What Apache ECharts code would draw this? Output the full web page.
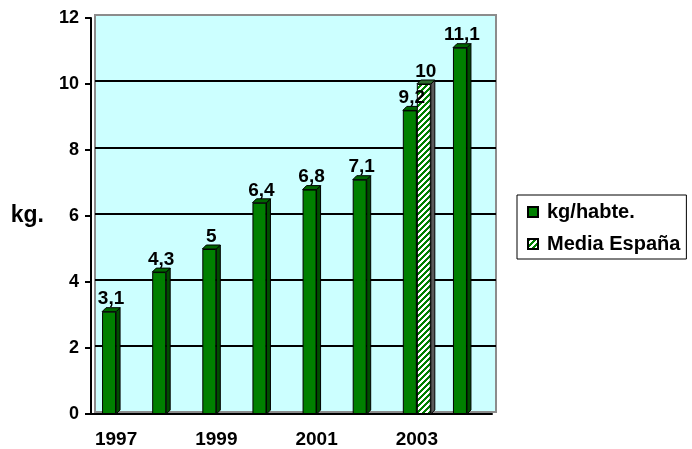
<!DOCTYPE html>
<html>
<head>
<meta charset="utf-8">
<script src="https://cdn.jsdelivr.net/npm/echarts@6/dist/echarts.min.js"></script>
<style>
  html, body { margin: 0; padding: 0; background: #fff; }
  #chart { width: 692px; height: 449px; }
</style>
</head>
<body>
<div id="chart"></div>
<script>
// Consumption per inhabitant (kg) by year, with the national average
const years = ['1997', '1998', '1999', '2000', '2001', '2002', '2003', '2004'];
const kgHabte = [3.1, 4.3, 5, 6.4, 6.8, 7.1, 9.2, 11.1];
const mediaEspana = [null, null, null, null, null, null, 10, null];
const yTicks = { min: 0, max: 12, interval: 2 };

const FONT = 'Arial, "Liberation Sans", sans-serif';
const GREEN = '#008000';
const SIDE_GREEN = '#004d00';
const TOP_GREEN = '#006600';
const BAR_W = 14;
const DX = 4, DY = -4;

// white / green diagonal hatching
function makeHatch() {
  const c = document.createElement('canvas');
  c.width = 6; c.height = 6;
  const ctx = c.getContext('2d');
  const img = ctx.createImageData(6, 6);
  for (let y = 0; y < 6; y++) {
    for (let x = 0; x < 6; x++) {
      const i = (y * 6 + x) * 4;
      const g = (x + y) % 6 < 3;
      img.data[i] = g ? 0 : 255;
      img.data[i + 1] = g ? 128 : 255;
      img.data[i + 2] = g ? 0 : 255;
      img.data[i + 3] = 255;
    }
  }
  ctx.putImageData(img, 0, 0);
  return c;
}
const hatch = { image: makeHatch(), repeat: 'repeat' };

const fmt = v => String(v).replace('.', ',');

// side and top faces that give the bars their depth
function depthRenderer(offsetSide, sideColor, topColor) {
  return function (params, api) {
    const v = api.value(1);
    if (v == null || isNaN(v)) return;
    const top = api.coord([api.value(0), v]);
    const base = api.coord([api.value(0), 0]);
    const x0 = offsetSide === 'left' ? top[0] - BAR_W : top[0];
    const x1 = x0 + BAR_W;
    const yT = top[1], yB = base[1];
    const line = { stroke: '#000', lineWidth: 1 };
    return {
      type: 'group',
      children: [
        { type: 'polygon', shape: { points: [[x1, yT], [x1 + DX, yT + DY], [x1 + DX, yB + DY], [x1, yB]] },
          style: Object.assign({ fill: sideColor }, line) },
        { type: 'polygon', shape: { points: [[x0, yT], [x0 + DX, yT + DY], [x1 + DX, yT + DY], [x1, yT]] },
          style: Object.assign({ fill: topColor }, line) }
      ]
    };
  };
}

const valueLabel = {
  show: true, position: 'top', distance: 3, offset: [2, 0],
  formatter: p => fmt(p.value),
  color: '#000', fontWeight: 'bold', fontSize: 19, fontFamily: FONT
};

const chart = echarts.init(document.getElementById('chart'), null, { renderer: 'canvas' });

chart.setOption({
  animation: false,
  backgroundColor: '#fff',
  textStyle: { fontFamily: FONT },
  grid: [
    { left: 91, top: 18, width: 401, height: 397, show: false },
    { left: 95, top: 15, width: 401, height: 397, show: true,
      backgroundColor: '#CCFFFF', borderColor: '#8c8c8c', borderWidth: 2, z: 0 }
  ],
  legend: {
    orient: 'vertical',
    left: 517, top: 195,
    padding: [7, 6, 5, 10],
    itemGap: 12,
    itemWidth: 10, itemHeight: 10,
    icon: 'rect',
    borderColor: '#000', borderWidth: 1,
    textStyle: { fontFamily: FONT, fontWeight: 'bold', fontSize: 20, color: '#000',
      padding: [0, 0, 0, 4] },
    data: ['kg/habte.', 'Media España']
  },
  xAxis: [
    {
      type: 'category', gridIndex: 0, data: years,
      axisLine: { lineStyle: { color: '#000', width: 2 } },
      axisTick: { interval: 0, length: 6, lineStyle: { color: '#000', width: 2 } },
      axisLabel: { interval: 1, margin: 16, color: '#000', fontWeight: 'bold', fontSize: 19, fontFamily: FONT },
      splitLine: { show: false }
    },
    { type: 'value', gridIndex: 1, min: 0, max: 1, show: false }
  ],
  yAxis: [
    {
      type: 'value', gridIndex: 0, min: yTicks.min, max: yTicks.max, interval: yTicks.interval,
      name: 'kg.', nameLocation: 'middle', nameRotate: 0, nameGap: 47,
      nameTextStyle: { color: '#000', fontWeight: 'bold', fontSize: 23, fontFamily: FONT },
      axisLine: { show: true, lineStyle: { color: '#000', width: 2 } },
      axisTick: { show: true, length: 6, lineStyle: { color: '#000', width: 2 } },
      axisLabel: { margin: 12, color: '#000', fontWeight: 'bold', fontSize: 18, fontFamily: FONT },
      splitLine: { show: false }
    },
    {
      type: 'value', gridIndex: 1, min: yTicks.min, max: yTicks.max, interval: yTicks.interval,
      axisLine: { show: false }, axisTick: { show: false }, axisLabel: { show: false },
      splitLine: { show: true, lineStyle: { width: 2,
        color: ['#8c8c8c', '#000', '#000', '#000', '#000', '#000', '#8c8c8c'] } }
    }
  ],
  series: [
    {
      type: 'custom', name: 'depth-kg', xAxisIndex: 0, yAxisIndex: 0, z: 1,
      renderItem: depthRenderer('left', SIDE_GREEN, TOP_GREEN),
      data: kgHabte.map((v, i) => [i, v]), silent: true, tooltip: { show: false }
    },
    {
      type: 'custom', name: 'depth-media', xAxisIndex: 0, yAxisIndex: 0, z: 1,
      renderItem: depthRenderer('right', '#5a5a5a', '#2e6b2e'),
      data: mediaEspana.map((v, i) => [i, v]), silent: true, tooltip: { show: false }
    },
    {
      type: 'bar', name: 'kg/habte.', xAxisIndex: 0, yAxisIndex: 0, z: 3,
      barWidth: BAR_W, barGap: '0%',
      data: kgHabte,
      itemStyle: { color: GREEN, borderColor: '#000', borderWidth: 1 },
      label: valueLabel
    },
    {
      type: 'bar', name: 'Media España', xAxisIndex: 0, yAxisIndex: 0, z: 3,
      barWidth: BAR_W, barGap: '0%',
      data: mediaEspana,
      itemStyle: { color: hatch, borderColor: '#000', borderWidth: 1 },
      label: valueLabel
    }
  ]
});
</script>
</body>
</html>
